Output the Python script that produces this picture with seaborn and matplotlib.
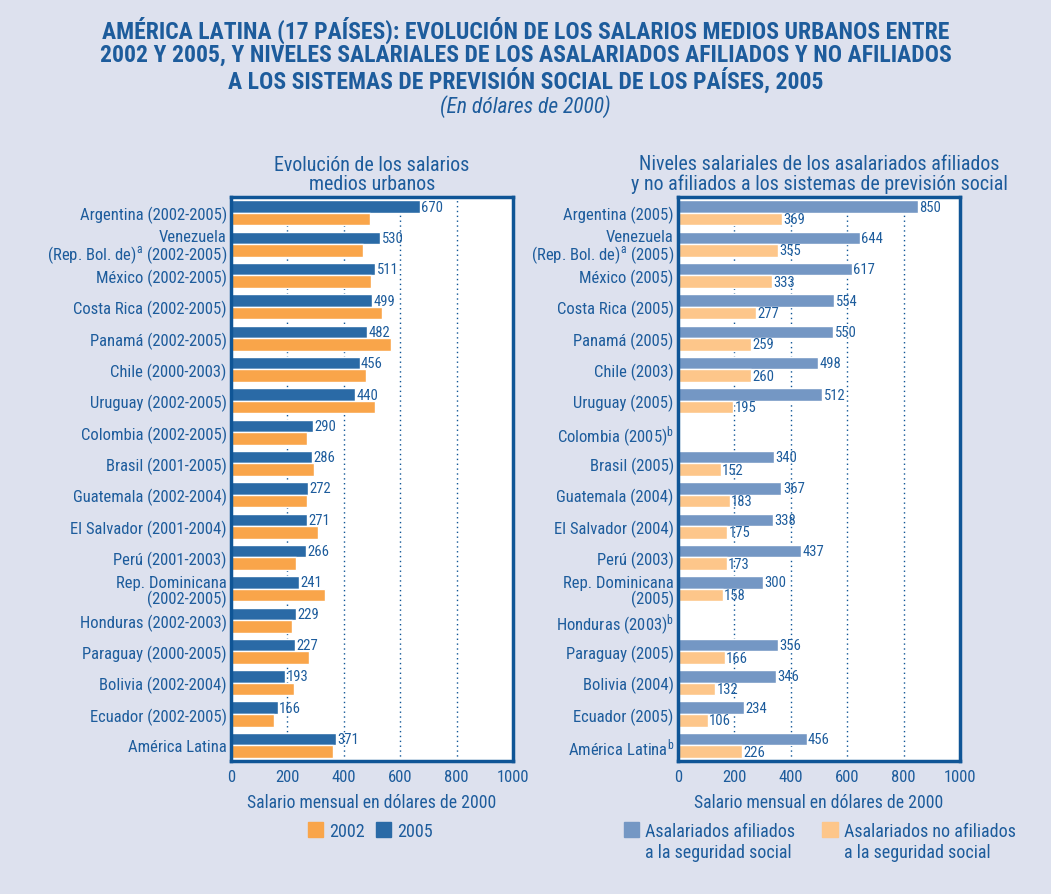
import numpy as np
import pandas as pd
import matplotlib
matplotlib.use("Agg")
import matplotlib.pyplot as plt
import matplotlib.font_manager as fm
from matplotlib.patches import Patch
import seaborn as sns

# --- data -------------------------------------------------------------
left_labels = [
    "Argentina (2002-2005)",
    "Venezuela\n(Rep. Bol. de)$^{a}$ (2002-2005)",
    "México (2002-2005)",
    "Costa Rica (2002-2005)",
    "Panamá (2002-2005)",
    "Chile (2000-2003)",
    "Uruguay (2002-2005)",
    "Colombia (2002-2005)",
    "Brasil (2001-2005)",
    "Guatemala (2002-2004)",
    "El Salvador (2001-2004)",
    "Perú (2001-2003)",
    "Rep. Dominicana\n(2002-2005)",
    "Honduras (2002-2003)",
    "Paraguay (2000-2005)",
    "Bolivia (2002-2004)",
    "Ecuador (2002-2005)",
    "América Latina",
]
sal_2005 = [670, 530, 511, 499, 482, 456, 440, 290, 286, 272, 271, 266, 241, 229, 227, 193, 166, 371]
sal_2002 = [494, 469, 498, 536, 568, 480, 511, 271, 296, 271, 307, 229, 335, 216, 278, 225, 152, 360]

right_labels = [
    "Argentina (2005)",
    "Venezuela\n(Rep. Bol. de)$^{a}$ (2005)",
    "México (2005)",
    "Costa Rica (2005)",
    "Panamá (2005)",
    "Chile (2003)",
    "Uruguay (2005)",
    "Colombia (2005)$^{b}$",
    "Brasil (2005)",
    "Guatemala (2004)",
    "El Salvador (2004)",
    "Perú (2003)",
    "Rep. Dominicana\n(2005)",
    "Honduras (2003)$^{b}$",
    "Paraguay (2005)",
    "Bolivia (2004)",
    "Ecuador (2005)",
    "América Latina$^{b}$",
]
afiliados = [850, 644, 617, 554, 550, 498, 512, np.nan, 340, 367, 338, 437, 300, np.nan, 356, 346, 234, 456]
no_afiliados = [369, 355, 333, 277, 259, 260, 195, np.nan, 152, 183, 175, 173, 158, np.nan, 166, 132, 106, 226]

left_series = ["2005", "2002"]
right_series = ["Asalariados afiliados", "Asalariados no afiliados"]
right_series_2nd = "a la seguridad social"

title_lines = [
    "AMÉRICA LATINA (17 PAÍSES): EVOLUCIÓN DE LOS SALARIOS MEDIOS URBANOS ENTRE",
    "2002 Y 2005, Y NIVELES SALARIALES DE LOS ASALARIADOS AFILIADOS Y NO AFILIADOS",
    "A LOS SISTEMAS DE PREVISIÓN SOCIAL DE LOS PAÍSES, 2005",
]

# --- style ------------------------------------------------------------
BG = "#dde1ee"
TXT = "#1d5c9c"
FRAME = "#0f5596"
C2005, C2002 = "#2a6aa6", "#f9a54a"
CAF, CNO = "#7497c4", "#fdc68a"

sns.set_theme(style="white")

# the original uses a condensed face; take one if the system has it
ttf = fm.fontManager.ttflist
FONT, STRETCH = "Liberation Sans", "normal"
for f in ttf:
    if f.name in ("Liberation Sans Narrow", "Roboto Condensed", "Open Sans Condensed"):
        FONT, STRETCH = f.name, "normal"
        break
else:
    for f in ttf:
        if f.name == "DejaVu Sans" and f.stretch == "condensed":
            FONT, STRETCH = "DejaVu Sans", "condensed"
            break
NARROW = FONT != "Liberation Sans"
k = 1.0 if NARROW else 0.86

plt.rcParams["font.family"] = [FONT, "DejaVu Sans"]
plt.rcParams["font.stretch"] = STRETCH
plt.rcParams["mathtext.fontset"] = "custom"
plt.rcParams["mathtext.rm"] = FONT
plt.rcParams["mathtext.it"] = FONT

df_left = pd.DataFrame({
    "pais": left_labels * 2,
    "valor": sal_2005 + sal_2002,
    "serie": [left_series[0]] * len(left_labels) + [left_series[1]] * len(left_labels),
})
df_right = pd.DataFrame({
    "pais": right_labels * 2,
    "valor": afiliados + no_afiliados,
    "serie": [right_series[0]] * len(right_labels) + [right_series[1]] * len(right_labels),
})

fig = plt.figure(figsize=(10.51, 8.95), dpi=100)
fig.patch.set_facecolor(BG)

ax1 = fig.add_axes([0.2198, 0.1486, 0.2683, 0.630])
ax2 = fig.add_axes([0.6451, 0.1486, 0.2683, 0.630])


def style_panel(ax, df, palette, label_all):
    sns.barplot(data=df, y="pais", x="valor", hue="serie", orient="h",
                palette=palette, ax=ax, width=0.8, legend=False, saturation=1)
    ax.set_facecolor("white")
    ax.set_xlim(0, 1000)
    ax.set_xticks([0, 200, 400, 600, 800, 1000])
    for v in [200, 400, 600, 800]:
        ax.axvline(v, color=FRAME, ls=(0, (1, 2.5)), lw=1, zorder=0)
    for s in ax.spines.values():
        s.set_color(FRAME)
        s.set_linewidth(2.5)
    ax.tick_params(axis="both", length=0, labelcolor=TXT, labelsize=12 * k, pad=3)
    ax.tick_params(axis="x", pad=6)
    for t in ax.get_yticklabels():
        t.set_linespacing(1.0)
    ax.set_ylabel("")
    ax.set_xlabel("Salario mensual en dólares de 2000", color=TXT, fontsize=12.7 * k, labelpad=6)
    conts = ax.containers if label_all else ax.containers[:1]
    for c in conts:
        ax.bar_label(c, labels=[f"{v:.0f}" for v in c.datavalues], padding=1,
                     color=TXT, fontsize=10.5 * k)


style_panel(ax1, df_left, [C2005, C2002], False)
style_panel(ax2, df_right, [CAF, CNO], True)

# --- titles -----------------------------------------------------------
for y, line in zip([0.9660, 0.9380, 0.9100], title_lines):
    fig.text(0.5, y, line, ha="center", va="center", color=TXT,
             fontsize=17 * k, fontweight="bold")
fig.text(0.5, 0.8810, "(En dólares de 2000)", ha="center", va="center", color=TXT,
         fontsize=15.5 * k, style="italic")

ax1.set_title("Evolución de los salarios\nmedios urbanos", color=TXT, fontsize=14.4 * k,
              pad=6, linespacing=1.0)
ax2.set_title("Niveles salariales de los asalariados afiliados\ny no afiliados a los sistemas de previsión social",
              color=TXT, fontsize=14.4 * k, pad=6, linespacing=1.0)

# --- legends ----------------------------------------------------------
leg_kw = dict(loc="center", ncol=2, frameon=False, fontsize=13 * k, labelcolor=TXT,
              handlelength=0.85, handleheight=0.9, handletextpad=0.35)
fig.legend(handles=[Patch(color=C2002, label=left_series[1]),
                    Patch(color=C2005, label=left_series[0])],
           bbox_to_anchor=(0.3525, 0.0704), columnspacing=0.6, **leg_kw)
leg2 = fig.legend(handles=[Patch(color=CAF, label=right_series[0]),
                           Patch(color=CNO, label=right_series[1])],
                  bbox_to_anchor=(0.780, 0.0704), columnspacing=1.5, **leg_kw)

# second line of the right legend labels, under the first one
fig.canvas.draw()
inv = fig.transFigure.inverted()
for t in leg2.get_texts():
    bb = t.get_window_extent().transformed(inv)
    fig.text(bb.x0, bb.y0 - 0.024, right_series_2nd, ha="left", va="bottom",
             color=TXT, fontsize=13 * k)

fig.savefig("out.png", dpi=100, facecolor=BG)
